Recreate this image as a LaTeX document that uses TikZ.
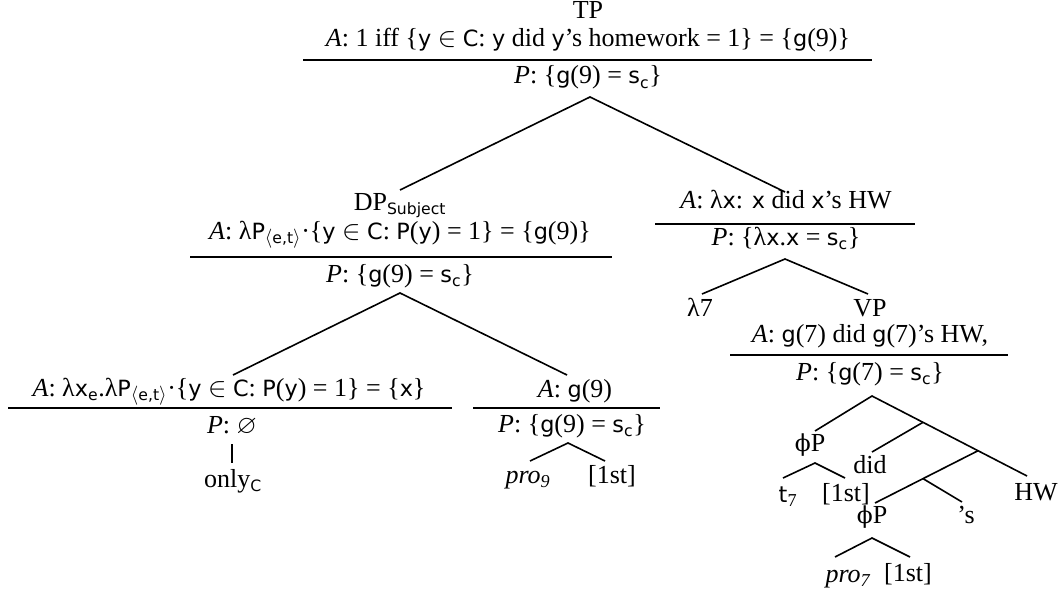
\documentclass[tikz,border=0pt]{standalone}
\usepackage{amsmath,amssymb}
\usepackage{fontspec}
\usetikzlibrary{calc}
\setmainfont{Liberation Serif}
\newfontfamily\vf{DejaVu Sans}[Scale=0.86]
\newfontfamily\gkf{DejaVu Serif}[Scale=0.9]
\newcommand{\V}[1]{{\vf #1}}
\newcommand{\Sb}[1]{\ensuremath{_{\text{#1}}}}
\newcommand{\ET}{\ensuremath{_{\langle\text{\vf e,t}\rangle}}}
\newcommand{\PHI}{{\gkf ϕ}}
\begin{document}
\begin{tikzpicture}[x=0.75pt,y=-0.75pt,
  t/.style={inner sep=0pt, anchor=base, font=\fontsize{19.5}{22}\selectfont},
  rl/.style={line width=1.1pt},
  br/.style={line width=1.2pt}]
\useasboundingbox (0,0) rectangle (1060,592);
% ---- TP
\node[t] (tp) at (588,19) {TP};
\node[t] (tpA) at (588,47) {\textit{A}: 1 iff \{\V{y} $\in$ \V{C}: \V{y} did \V{y}'s homework = 1\} = \{\V{g}(9)\}};
\coordinate (tpRl) at (303,60); \coordinate (tpRr) at (872,60);
\draw[rl] (tpRl) -- (tpRr);
\node[t] (tpP) at (588,84) {\textit{P}: \{\V{g}(9) = \V{s}\Sb{\vf c}\}};
\coordinate (tpX) at (590,97);
\coordinate (dpT) at (400,190);
\coordinate (rtT) at (785,192);
\draw[br] (dpT) -- (tpX) -- (rtT);
% ---- DP subject
\node[t] (dp) at (400,210) {DP\Sb{\vf Subject}};
\node[t] (dpA) at (400,239) {\textit{A}: λ\V{P}\ET·\{\V{y} $\in$ \V{C}: \V{P}(\V{y}) = 1\} = \{\V{g}(9)\}};
\coordinate (dpRl) at (190,257); \coordinate (dpRr) at (612,257);
\draw[rl] (dpRl) -- (dpRr);
\node[t] (dpP) at (400,282) {\textit{P}: \{\V{g}(9) = \V{s}\Sb{\vf c}\}};
\coordinate (dpX) at (400,293);
\coordinate (blT) at (233,375);
\coordinate (prT) at (567,375);
\draw[br] (blT) -- (dpX) -- (prT);
% ---- only
\node[t] (blA) at (229,396) {\textit{A}: λ\V{x}\Sb{\vf e}.λ\V{P}\ET·\{\V{y} $\in$ \V{C}: \V{P}(\V{y}) = 1\} = \{\V{x}\}};
\coordinate (blRl) at (8,408); \coordinate (blRr) at (452,408);
\draw[rl] (blRl) -- (blRr);
\node[t] (blP) at (232,433) {\textit{P}: $\varnothing$};
\node[t] (only) at (233,487) {only\Sb{\vf C}};
\coordinate (barT) at (232,444);
\coordinate (barB) at (232,463);
\draw[line width=0.8pt] (barT) -- (barB);
% ---- pro9
\node[t] (prA) at (575,397) {\textit{A}: \V{g}(9)};
\coordinate (prRl) at (473,408); \coordinate (prRr) at (660,408);
\draw[rl] (prRl) -- (prRr);
\node[t] (prP) at (572,432) {\textit{P}: \{\V{g}(9) = \V{s}\Sb{\vf c}\}};
\coordinate (prX) at (568,443);
\coordinate (pro9T) at (530,461);
\coordinate (st9T) at (605,461);
\draw[br] (pro9T) -- (prX) -- (st9T);
\node[t] (pro9) at (528,483) {\textit{pro}\Sb{\itshape 9}};
\node[t] (st9) at (612,483) {[1st]};
% ---- right node
\node[t] (rtA) at (786,208) {\textit{A}: λ\V{x}: \V{x} did \V{x}'s HW};
\coordinate (rtRl) at (655,224); \coordinate (rtRr) at (915,224);
\draw[rl] (rtRl) -- (rtRr);
\node[t] (rtP) at (786,245) {\textit{P}: \{λ\V{x}.\V{x} = \V{s}\Sb{\vf c}\}};
\coordinate (rtX) at (785,259);
\coordinate (lamT) at (702,294);
\coordinate (vpT) at (868,294);
\draw[br] (lamT) -- (rtX) -- (vpT);
\node[t] (lam) at (700,316) {λ7};
\node[t] (vp) at (870,316) {VP};
\node[t] (vpA) at (870,342) {\textit{A}: \V{g}(7) did \V{g}(7)'s HW,};
\coordinate (vpRl) at (730,355); \coordinate (vpRr) at (1008,355);
\draw[rl] (vpRl) -- (vpRr);
\node[t] (vpP) at (870,380) {\textit{P}: \{\V{g}(7) = \V{s}\Sb{\vf c}\}};
% ---- VP inner tree
\coordinate (vpX) at (872,396);
\coordinate (phiOneT) at (815,431);
\coordinate (hwT) at (1027,476);
\coordinate (nOne) at ($(vpX)!0.329!(hwT)$);
\coordinate (nTwo) at ($(vpX)!0.684!(hwT)$);
\coordinate (didT) at (872,452);
\coordinate (phiTwoT) at (875,503);
\coordinate (nThree) at ($(nTwo)!0.534!(phiTwoT)$);
\coordinate (sT) at (962,502);
\draw[br] (phiOneT) -- (vpX) -- (hwT);
\draw[br] (nOne) -- (didT);
\draw[br] (nTwo) -- (phiTwoT);
\draw[br] (nThree) -- (sT);
\node[t] (phiOne) at (810,451) {\PHI P};
\node[t] (did) at (870,473) {did};
\node[t] (hw) at (1036,500) {HW};
\node[t] (phiTwo) at (872,523) {\PHI P};
\node[t] (poss) at (966,523) {’s};
\coordinate (phiOneX) at (815,463);
\coordinate (t7T) at (783,478);
\coordinate (st7T) at (845,478);
\draw[br] (t7T) -- (phiOneX) -- (st7T);
\node[t] (t7) at (788,502) {\V{t}\Sb{7}};
\node[t] (st7) at (846,501) {[1st]};
\coordinate (phiTwoX) at (872,538);
\coordinate (pro7T) at (835,557);
\coordinate (stpT) at (910,557);
\draw[br] (pro7T) -- (phiTwoX) -- (stpT);
\node[t] (pro7) at (848,582) {\textit{pro}\Sb{\itshape 7}};
\node[t] (stp) at (908,581) {[1st]};
\end{tikzpicture}
\end{document}
